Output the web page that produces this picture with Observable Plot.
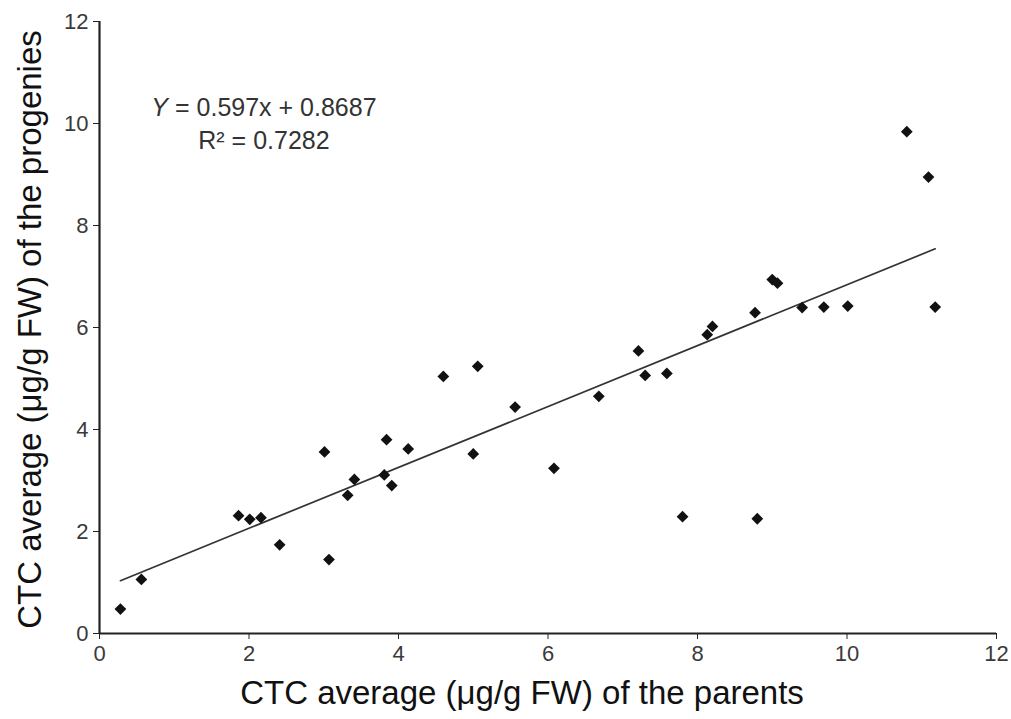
<!DOCTYPE html>
<html>
<head>
<meta charset="utf-8">
<script src="https://cdn.jsdelivr.net/npm/d3@7"></script>
<script src="https://cdn.jsdelivr.net/npm/@observablehq/plot@0.6"></script>
<style>
  html, body { margin: 0; padding: 0; background: #fff; }
  #chart svg { display: block; }
</style>
</head>
<body>
<div id="chart"></div>
<script>
// CTC average (µg/g FW) of the parents
const parents = [0.28, 0.56, 1.86, 2.01, 2.16, 2.41, 3.01, 3.07, 3.32, 3.41, 3.81, 3.84,
  3.91, 4.13, 4.60, 5.06, 5.00, 5.56, 6.08, 6.68, 7.21, 7.30, 7.59, 7.80, 8.80, 8.13,
  8.20, 8.77, 9.00, 9.07, 9.40, 9.69, 10.01, 10.80, 11.09, 11.18];
// CTC average (µg/g FW) of the progenies
const progenies = [0.48, 1.06, 2.31, 2.24, 2.27, 1.74, 3.56, 1.45, 2.71, 3.02, 3.11, 3.80,
  2.90, 3.62, 5.04, 5.24, 3.52, 4.44, 3.24, 4.65, 5.54, 5.06, 5.10, 2.29, 2.25, 5.86,
  6.02, 6.29, 6.94, 6.87, 6.39, 6.40, 6.42, 9.84, 8.95, 6.40];

// Regression reported in the figure
const slope = 0.597;
const intercept = 0.8687;
const rSquared = 0.7282;

const xTicks = [0, 2, 4, 6, 8, 10, 12];
const yTicks = [0, 2, 4, 6, 8, 10, 12];
const xLabel = "CTC average (\u03bcg/g FW) of the parents";
const yLabel = "CTC average (\u03bcg/g FW) of the progenies";

// annotation anchor (data units)
const annotX = [2.2];
const annotY = [10.31, 9.65];

const points = parents.map((x, i) => ({x, y: progenies[i]}));
const [x0, x1] = d3.extent(parents);
const fitLine = [x0, x1].map(x => ({x, y: slope * x + intercept}));

const chart = Plot.plot({
  width: 1011,
  height: 719,
  marginLeft: 99,
  marginRight: 15,
  marginTop: 21,
  marginBottom: 86,
  style: {fontFamily: "'Liberation Sans', Arial, sans-serif", background: "#fff", color: "#333"},
  x: {domain: [0, 12]},
  y: {domain: [0, 12]},
  marks: [
    Plot.axisX({ticks: xTicks, tickSize: 6, tickPadding: 6, fontSize: 22, label: null, stroke: "#222", fill: "#3a3a3a"}),
    Plot.axisY({ticks: yTicks, tickSize: 6, tickPadding: 5, fontSize: 22, label: null, stroke: "#222", fill: "#3a3a3a"}),
    Plot.ruleX([0], {stroke: "#222", strokeWidth: 2.2}),
    Plot.ruleY([0], {stroke: "#222", strokeWidth: 2.2}),
    Plot.line(fitLine, {x: "x", y: "y", stroke: "#333", strokeWidth: 1.7}),
    Plot.dot(points, {x: "x", y: "y", symbol: "diamond2", r: 5.3, fill: "#111", stroke: "none"}),
    Plot.text([`Y = ${slope}x + ${intercept}`], {x: annotX[0], y: annotY[0], fontSize: 25, fill: "#333", textAnchor: "middle"}),
    Plot.text([`R\u00b2 = ${rSquared}`], {x: annotX[0], y: annotY[1], fontSize: 25, fill: "#333", textAnchor: "middle"}),
    Plot.text([xLabel], {frameAnchor: "bottom", textAnchor: "middle", dx: -26, dy: 60, lineAnchor: "middle", fontSize: 33, fill: "#111"}),
    Plot.text([yLabel], {frameAnchor: "left", textAnchor: "middle", dx: -69, dy: 2, rotate: -90, lineAnchor: "middle", fontSize: 33, fill: "#111"})
  ]
});
document.getElementById("chart").appendChild(chart);
// italic Y in the equation
chart.querySelectorAll("text").forEach(t => {
  if (t.textContent.startsWith("Y = ")) {
    const rest = t.textContent.slice(1);
    t.textContent = "";
    const ns = "http://www.w3.org/2000/svg";
    const a = document.createElementNS(ns, "tspan"); a.setAttribute("font-style", "italic"); a.textContent = "Y";
    const b = document.createElementNS(ns, "tspan"); b.textContent = rest;
    t.appendChild(a); t.appendChild(b);
  }
});
</script>
</body>
</html>
